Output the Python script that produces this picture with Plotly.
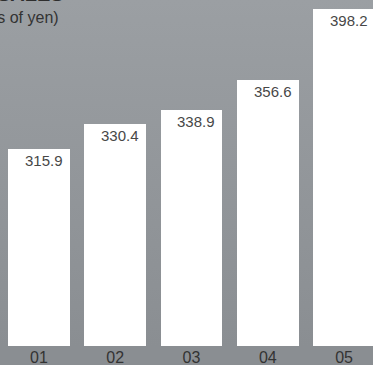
import base64
import plotly.graph_objects as go

years = ["01", "02", "03", "04", "05"]
sales = [315.9, 330.4, 338.9, 356.6, 398.2]
title_text = "SALES"
unit_text = "(billions of yen)"

W, H = 373, 365
x_pos = list(range(len(years)))
x_range = [-0.5115, 4.380]
bar_w = 0.81
px_per_unit = W / (x_range[1] - x_range[0])

svg = (
    '<svg xmlns="http://www.w3.org/2000/svg" width="10" height="100" preserveAspectRatio="none">'
    '<defs><linearGradient id="g" x1="0" y1="0" x2="0" y2="1">'
    '<stop offset="0" stop-color="#9b9fa3"/><stop offset="1" stop-color="#8a8e92"/>'
    '</linearGradient></defs><rect width="10" height="100" fill="url(#g)"/></svg>'
)
src = "data:image/svg+xml;base64," + base64.b64encode(svg.encode()).decode()

fig = go.Figure()
fig.add_trace(go.Bar(
    x=x_pos, y=sales, base=0, width=bar_w,
    marker=dict(color="#ffffff", line=dict(width=0)),
    hoverinfo="skip",
))

for xi, v in zip(x_pos, sales):
    fig.add_annotation(
        x=xi, y=v, xref="x", yref="y",
        text=f"{v:.1f}", showarrow=False,
        xanchor="right", yanchor="top",
        xshift=bar_w / 2 * px_per_unit - 5, yshift=-1,
        font=dict(family="Liberation Sans, Arial, sans-serif", size=15, color="#474747"),
    )

fig.add_annotation(
    x=66 / W, y=1, xref="paper", yref="paper", text="<b>" + title_text + "</b>",
    showarrow=False, xanchor="right", yanchor="bottom", yshift=-7,
    font=dict(family="Liberation Sans, Arial, sans-serif", size=20, color="#2e2e2e"),
)
fig.add_annotation(
    x=61 / W, y=1, xref="paper", yref="paper", text=unit_text,
    showarrow=False, xanchor="right", yanchor="top", yshift=-7,
    font=dict(family="Liberation Sans, Arial, sans-serif", size=16, color="#333333"),
)

fig.add_layout_image(dict(
    source=src, xref="paper", yref="paper", x=0, y=1, sizex=1, sizey=1,
    sizing="stretch", layer="below", xanchor="left", yanchor="top",
))

fig.update_layout(
    width=W, height=H,
    margin=dict(l=0, r=0, t=0, b=19),
    paper_bgcolor="#8a8e92", plot_bgcolor="rgba(0,0,0,0)",
    showlegend=False, bargap=0,
    xaxis=dict(
        range=x_range, tickvals=x_pos, ticktext=years,
        showgrid=False, zeroline=False, showline=False, ticks="",
        tickfont=dict(family="Liberation Sans, Arial, sans-serif", size=16, color="#333333"),
        ticklabelstandoff=0,
    ),
    yaxis=dict(range=[200, 403.5], visible=False, showgrid=False, zeroline=False),
)

fig.write_html("out.html")
